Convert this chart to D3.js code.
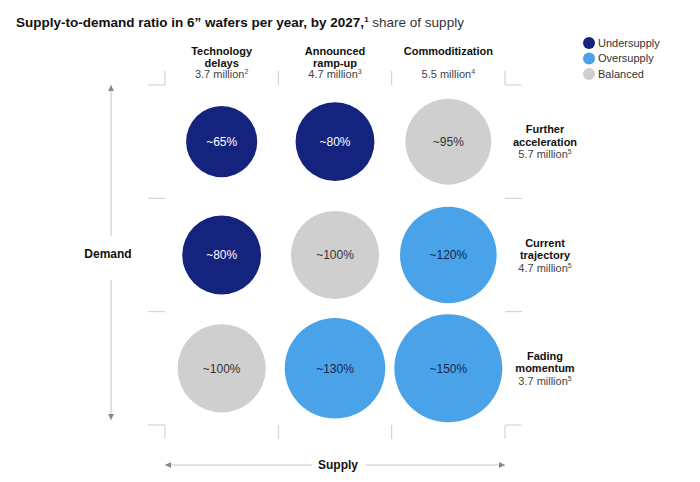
<!DOCTYPE html>
<html><head><meta charset="utf-8">
<script src="https://cdn.jsdelivr.net/npm/d3@7"></script>
<style>
body{margin:0;background:#fff;}
text{font-family:"Liberation Sans",Arial,Helvetica,sans-serif;}
</style></head>
<body><svg id="chart" width="700" height="482"></svg>
<script>
const supplyScenarios = ["Technology delays","Announced ramp-up","Commoditization"];
const supplyHeaderLines = [["Technology","delays"],["Announced","ramp-up"],["Commoditization"]];
const supplyVolumes = ["3.7 million","4.7 million","5.5 million"];
const supplyNotes = ["2","3","4"];
const demandScenarios = ["Further acceleration","Current trajectory","Fading momentum"];
const demandHeaderLines = [["Further","acceleration"],["Current","trajectory"],["Fading","momentum"]];
const demandVolumes = ["5.7 million","4.7 million","3.7 million"];
const demandNotes = ["5","5","5"];
// values[row][col] share of supply (%)
const ratioValues = [
  [65, 80, 95],
  [80, 100, 120],
  [100, 130, 150]
];
const statusValues = [
  ["Undersupply","Undersupply","Balanced"],
  ["Undersupply","Balanced","Oversupply"],
  ["Balanced","Oversupply","Oversupply"]
];
const legendLabels = ["Undersupply","Oversupply","Balanced"];
const legendColors = ["#13237e","#4aa3e8","#cfcfcf"];

const svg = d3.select("#chart");
const color = d3.scaleOrdinal().domain(legendLabels).range(legendColors);
const textColor = d3.scaleOrdinal().domain(legendLabels).range(["#ffffff","#15264d","#333333"]);

const x = d3.scaleBand().domain(supplyScenarios).range([165,505]);
const y = d3.scaleBand().domain(demandScenarios).range([85,425]);
const r = d3.scaleSqrt().domain([0,150]).range([0,54]);

// Title
const title = svg.append("text").attr("x",16).attr("y",27).attr("font-size",13.5).attr("fill","#111");
title.append("tspan").attr("font-weight","bold").text("Supply-to-demand ratio in 6\u201d wafers per year, by 2027,");
title.append("tspan").attr("font-size",8).attr("dy",-5).attr("font-weight","bold").text("1");
title.append("tspan").attr("dy",5).attr("fill","#333").text(" share of supply");

// Grid frame ticks
const gc = "#cccccc";
const g = svg.append("g").attr("stroke",gc).attr("stroke-width",1).attr("fill","none");
const x0 = x.range()[0], x1 = x.range()[1], y0 = y.range()[0], y1 = y.range()[1];
const tl = 14;
// corners
g.append("path").attr("d",`M${x0-17},${y0}H${x0}V${y0-tl}`);
g.append("path").attr("d",`M${x1},${y0-tl}V${y0}H${x1+17}`);
g.append("path").attr("d",`M${x0-17},${y1}H${x0}V${y1+tl}`);
g.append("path").attr("d",`M${x1},${y1+tl}V${y1}H${x1+17}`);
// interior ticks
supplyScenarios.slice(1).forEach(s=>{
  g.append("line").attr("x1",x(s)).attr("x2",x(s)).attr("y1",y0-tl).attr("y2",y0);
  g.append("line").attr("x1",x(s)).attr("x2",x(s)).attr("y1",y1).attr("y2",y1+tl);
});
demandScenarios.slice(1).forEach(d=>{
  g.append("line").attr("x1",x0-17).attr("x2",x0).attr("y1",y(d)).attr("y2",y(d));
  g.append("line").attr("x1",x1).attr("x2",x1+17).attr("y1",y(d)).attr("y2",y(d));
});

// Column headers
supplyScenarios.forEach((s,i)=>{
  const cx = x(s)+x.bandwidth()/2;
  const lines = supplyHeaderLines[i];
  lines.forEach((ln,j)=>{
    svg.append("text").attr("x",cx).attr("y",55+j*11.5).attr("text-anchor","middle")
      .attr("font-size",11).attr("font-weight","bold").attr("fill","#111").text(ln);
  });
  const t = svg.append("text").attr("x",cx).attr("y",78).attr("text-anchor","middle")
    .attr("font-size",11).attr("fill","#444");
  t.append("tspan").text(supplyVolumes[i]);
  t.append("tspan").attr("font-size",7).attr("dy",-4).text(supplyNotes[i]);
});

// Row labels
demandScenarios.forEach((d,i)=>{
  const cy = y(d)+y.bandwidth()/2;
  const lines = demandHeaderLines[i];
  lines.forEach((ln,j)=>{
    svg.append("text").attr("x",545).attr("y",cy-8.5+j*12.5).attr("text-anchor","middle")
      .attr("font-size",11).attr("font-weight","bold").attr("fill","#111").text(ln);
  });
  const t = svg.append("text").attr("x",545).attr("y",cy+16.5).attr("text-anchor","middle")
    .attr("font-size",11).attr("fill","#444");
  t.append("tspan").text(demandVolumes[i]);
  t.append("tspan").attr("font-size",7).attr("dy",-4).text(demandNotes[i]);
});

// Bubbles
const cells = [];
demandScenarios.forEach((d,ri)=>supplyScenarios.forEach((s,ci)=>{
  cells.push({d,s,v:ratioValues[ri][ci],st:statusValues[ri][ci]});
}));
const cg = svg.append("g").selectAll("g").data(cells).join("g")
  .attr("transform",c=>`translate(${x(c.s)+x.bandwidth()/2},${y(c.d)+y.bandwidth()/2})`);
cg.append("circle").attr("r",c=>r(c.v)).attr("fill",c=>color(c.st));
cg.append("text").attr("text-anchor","middle").attr("dy","0.35em").attr("font-size",12)
  .attr("fill",c=>textColor(c.st)).text(c=>"~"+c.v+"%");

// Legend
const lg = svg.append("g").selectAll("g").data(legendLabels).join("g")
  .attr("transform",(d,i)=>`translate(589,${43+i*15.5})`);
lg.append("circle").attr("r",6).attr("fill",d=>color(d));
lg.append("text").attr("x",9).attr("dy","0.36em").attr("font-size",11).attr("fill","#333").text(d=>d);

// Arrows
const defs = svg.append("defs");
defs.append("marker").attr("id","ah").attr("viewBox","0 0 10 10").attr("refX",10).attr("refY",5)
  .attr("markerWidth",6).attr("markerHeight",6).attr("markerUnits","userSpaceOnUse").attr("orient","auto")
  .append("path").attr("d","M0,0L10,5L0,10Z").attr("fill","#888");
defs.append("marker").attr("id","at").attr("viewBox","0 0 10 10").attr("refX",0).attr("refY",5)
  .attr("markerWidth",6).attr("markerHeight",6).attr("markerUnits","userSpaceOnUse").attr("orient","auto")
  .append("path").attr("d","M10,0L0,5L10,10Z").attr("fill","#888");
const ac = "#c4c4c4";
// Demand (vertical)
svg.append("line").attr("x1",111).attr("x2",111).attr("y1",y0).attr("y2",236)
  .attr("stroke",ac).attr("marker-start","url(#at)");
svg.append("line").attr("x1",111).attr("x2",111).attr("y1",280).attr("y2",420)
  .attr("stroke",ac).attr("marker-end","url(#ah)");
svg.append("text").attr("x",108).attr("y",258).attr("text-anchor","middle").attr("font-size",12)
  .attr("font-weight","bold").attr("fill","#111").text("Demand");
// Supply (horizontal)
svg.append("line").attr("x1",x0).attr("x2",312).attr("y1",465).attr("y2",465)
  .attr("stroke",ac).attr("marker-start","url(#at)");
svg.append("line").attr("x1",366).attr("x2",x1).attr("y1",465).attr("y2",465)
  .attr("stroke",ac).attr("marker-end","url(#ah)");
svg.append("text").attr("x",338).attr("y",469).attr("text-anchor","middle").attr("font-size",12)
  .attr("font-weight","bold").attr("fill","#111").text("Supply");
</script></body></html>
